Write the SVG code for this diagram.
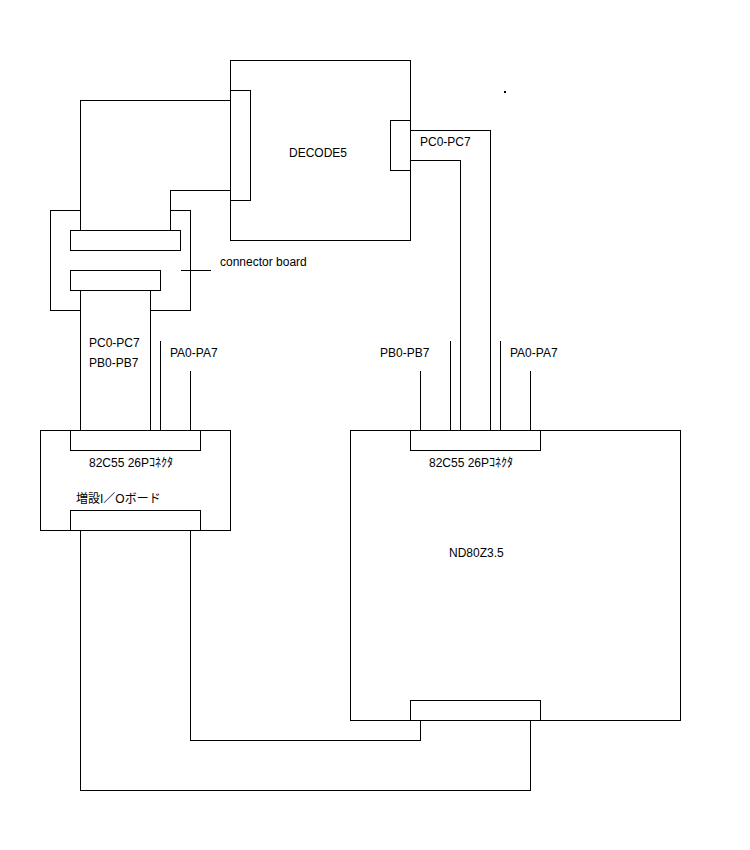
<svg xmlns="http://www.w3.org/2000/svg" width="750" height="850" viewBox="0 0 750 850">
<style>
.b{fill:none;stroke:#000;stroke-width:1;shape-rendering:crispEdges}
.w{fill:#fff;stroke:#000;stroke-width:1;shape-rendering:crispEdges}
text{font-family:"Liberation Sans","Noto Sans CJK JP",sans-serif;font-size:12px;fill:#000}
</style>
<rect width="750" height="850" fill="#fff"/>
<g transform="translate(0.5 0.5)">
<g id="connectors">
<polyline class="b" points="80,230 80,100 230,100"/>
<polyline class="b" points="170,230 170,190 230,190"/>
<line class="b" x1="80" y1="290" x2="80" y2="430"/>
<line class="b" x1="150" y1="290" x2="150" y2="430"/>
<line class="b" x1="160" y1="340" x2="160" y2="430"/>
<line class="b" x1="190" y1="370" x2="190" y2="430"/>
<polyline class="b" points="410,130 490,130 490,430"/>
<polyline class="b" points="410,160 460,160 460,430"/>
<line class="b" x1="420" y1="370" x2="420" y2="430"/>
<line class="b" x1="450" y1="340" x2="450" y2="430"/>
<line class="b" x1="500" y1="340" x2="500" y2="430"/>
<line class="b" x1="530" y1="370" x2="530" y2="430"/>
<polyline class="b" points="190,530 190,740 420,740 420,720"/>
<polyline class="b" points="80,530 80,790 530,790 530,720"/>
<line class="b" x1="180" y1="270" x2="210" y2="270"/>
</g>
<g id="decode5">
<rect class="w" x="230" y="60" width="180" height="180"/>
<rect class="w" x="230" y="90" width="20" height="110"/>
<rect class="w" x="390" y="120" width="20" height="50"/>
</g>
<g id="connector-board">
<polyline class="b" points="80,210 50,210 50,310 80,310"/>
<polyline class="b" points="170,210 190,210 190,310 150,310"/>
<rect class="w" x="70" y="230" width="110" height="20"/>
<rect class="w" x="70" y="270" width="90" height="20"/>
</g>
<g id="io-board">
<rect class="w" x="40" y="430" width="190" height="100"/>
<rect class="w" x="70" y="430" width="130" height="20"/>
<rect class="w" x="70" y="510" width="130" height="20"/>
</g>
<g id="nd80z">
<rect class="w" x="350" y="430" width="330" height="290"/>
<rect class="w" x="410" y="430" width="130" height="20"/>
<rect class="w" x="410" y="700" width="130" height="20"/>
</g>
</g>
<rect x="504" y="91" width="2" height="2" fill="#000"/>
<g id="labels">
<text x="289" y="157">DECODE5</text>
<text x="420" y="146">PC0-PC7</text>
<text x="220" y="266">connector board</text>
<text x="89" y="347">PC0-PC7</text>
<text x="89" y="367">PB0-PB7</text>
<text x="170" y="357">PA0-PA7</text>
<text x="380" y="357">PB0-PB7</text>
<text x="510" y="357">PA0-PA7</text>
<text x="89" y="467">82C55 26Pｺﾈｸﾀ</text>
<text x="429" y="467">82C55 26Pｺﾈｸﾀ</text>
<text x="76" y="503">増設I／Oボード</text>
<text x="449" y="557">ND80Z3.5</text>
</g>
</svg>
